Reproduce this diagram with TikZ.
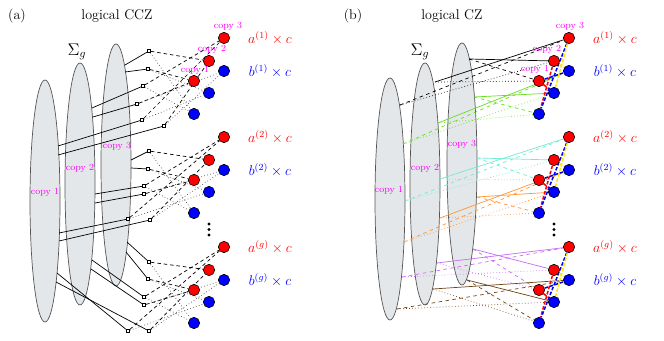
\documentclass[tikz,border=0pt]{standalone}
\usepackage{amsmath}
\usetikzlibrary{shapes.geometric}
\definecolor{shell}{HTML}{E4E7E9}
\definecolor{rim}{HTML}{555555}
\definecolor{qred}{HTML}{FF0000}
\definecolor{qblue}{HTML}{0000FF}
\definecolor{tagpink}{HTML}{FF00FF}
\definecolor{lime}{HTML}{66DD22}
\definecolor{aqua}{HTML}{70EBD2}
\definecolor{amber}{HTML}{FF9433}
\definecolor{lilac}{HTML}{C86AF5}
\definecolor{umber}{HTML}{6E4316}
\definecolor{gold}{HTML}{FFE600}
\pgfdeclarelayer{shells}
\pgfdeclarelayer{wires}
\pgfsetlayers{shells,wires,main}

\begin{document}
\begin{tikzpicture}[x=0.03cm, y=-0.03cm, font=\large,
  shellnode/.style={ellipse, draw=rim, fill=shell, line width=0.6pt, minimum width=0.9cm, minimum height=7.26cm, inner sep=0pt, outer sep=0pt},
  qa/.style={circle, draw=black, fill=qred, line width=0.5pt, minimum size=0.34cm, inner sep=0pt},
  qb/.style={qa, fill=qblue},
  junc/.style={draw=black, fill=white, line width=0.4pt, minimum size=0.1cm, inner sep=0pt},
  tag/.style={text=tagpink, font=\footnotesize},
  dotmark/.style={circle, fill=black, minimum size=0.1cm, inner sep=0pt},
  leg/.style={line width=0.6pt},
  opa/.style={line width=0.6pt, dash pattern=on 3pt off 2.5pt},
  opb/.style={line width=0.6pt, black!70, dotted},
  thread/.style={line width=0.6pt},
  czline/.style={line width=1.3pt, dash pattern=on 3pt off 1.5pt}]
  \useasboundingbox (0,0) rectangle (664,341);

  % (a) logical CCZ
  \node (pa) at (17,16) {(a)};
  \node (titlea) at (117,16) {logical CCZ};
  \node[font=\Large] (siga) at (77,52) {$\Sigma_g$};
  \begin{pgfonlayer}{shells}
    \node[shellnode] (ea1) at (45,201) {};
    \node[shellnode] (ea2) at (80,184) {};
    \node[shellnode] (ea3) at (116,165) {};
  \end{pgfonlayer}
  \node[tag] (cea1) at (45,192) {copy 1};
  \node[tag] (cea2) at (80,168) {copy 2};
  \node[tag] (cea3) at (117,146) {copy 3};

  % feet on the surfaces and junctions
  \coordinate (t11) at (125,65);  \coordinate (t12) at (125,72);
  \coordinate (t13) at (92,108);  \coordinate (t14) at (93,117);
  \coordinate (t15) at (58,146);  \coordinate (t16) at (58,155);
  \coordinate (t21) at (131,160); \coordinate (t22) at (131,168);
  \coordinate (t23) at (95,194);  \coordinate (t24) at (95,203);
  \coordinate (t25) at (59,233);  \coordinate (t26) at (59,241);
  \coordinate (t31) at (127,242); \coordinate (t32) at (126,252);
  \coordinate (t33) at (92,260);  \coordinate (t34) at (91,269);
  \coordinate (t35) at (57,273);  \coordinate (t36) at (56,282);
  \node[junc] (s11) at (149,51) {};  \node[junc] (s12) at (148,69) {};
  \node[junc] (s13) at (143,86) {};  \node[junc] (s14) at (137,104) {};
  \node[junc] (s15) at (142,120) {}; \node[junc] (s16) at (164,126) {};
  \node[junc] (s21) at (149,151) {}; \node[junc] (s22) at (148,169) {};
  \node[junc] (s23) at (144,186) {}; \node[junc] (s24) at (144,194) {};
  \node[junc] (s25) at (128,219) {}; \node[junc] (s26) at (150,220) {};
  \node[junc] (s31) at (149,262) {}; \node[junc] (s32) at (148,279) {};
  \node[junc] (s33) at (144,297) {}; \node[junc] (s34) at (144,305) {};
  \node[junc] (s35) at (128,331) {}; \node[junc] (s36) at (149,331) {};

  % qubits of both panels
  \foreach \g/\dy/\s in {1/0/1, 2/99/2, 3/209/g} {
    \node[qa] (aR\g3) at (224,38+\dy) {};
    \node[qa] (aR\g2) at (209,61+\dy) {};
    \node[qa] (aR\g1) at (194,81+\dy) {};
    \node[qb] (aB\g3) at (224,71+\dy) {};
    \node[qb] (aB\g2) at (209,93+\dy) {};
    \node[qb] (aB\g1) at (194,114+\dy) {};
    \node[qa] (bR\g3) at (569,38+\dy) {};
    \node[qa] (bR\g2) at (554,61+\dy) {};
    \node[qa] (bR\g1) at (539,81+\dy) {};
    \node[qb] (bB\g3) at (569,71+\dy) {};
    \node[qb] (bB\g2) at (554,93+\dy) {};
    \node[qb] (bB\g1) at (539,114+\dy) {};
    \node[qred] (laa\g) at (270,38+\dy) {$a^{(\s)}\times c$};
    \node[qblue] (lba\g) at (270,71+\dy) {$b^{(\s)}\times c$};
    \node[qred] (lab\g) at (615,38+\dy) {$a^{(\s)}\times c$};
    \node[qblue] (lbb\g) at (615,71+\dy) {$b^{(\s)}\times c$};
  }
  \node[tag] (qca3) at (228,26) {copy 3};
  \node[tag] (qca2) at (212,49) {copy 2};
  \node[tag] (qca1) at (195,70) {copy 1};
  \foreach \d/\y in {1/224, 2/229.5, 3/235} {
    \node[dotmark] (dota\d) at (209,\y) {};
    \node[dotmark] (dotb\d) at (554,\y) {};
  }

  \begin{pgfonlayer}{wires}
    \foreach \g in {1,2,3} {
      \foreach \k in {1,...,6}
        \draw[leg] (t\g\k) -- (s\g\k);
      \foreach \k/\r/\b in {1/2/1, 2/1/2, 3/3/1, 4/1/3, 5/3/2, 6/2/3} {
        \draw[opa] (s\g\k) -- (aR\g\r);
        \draw[opb] (s\g\k) -- (aB\g\b);
      }
    }
  \end{pgfonlayer}

  % (b) logical CZ
  \node (pb) at (353,16) {(b)};
  \node (titleb) at (452,16) {logical CZ};
  \node[font=\Large] (sigb) at (420,52) {$\Sigma_g$};
  \begin{pgfonlayer}{shells}
    \node[shellnode] (eb1) at (390,199) {};
    \node[shellnode] (eb2) at (425,184) {};
    \node[shellnode] (eb3) at (462,164) {};
  \end{pgfonlayer}
  \node[tag] (ceb1) at (389,190) {copy 1};
  \node[tag] (ceb2) at (425,168) {copy 2};
  \node[tag] (ceb3) at (462,144) {copy 3};
  \node[tag] (qcb3) at (570,26) {copy 3};
  \node[tag] (qcb2) at (547,49) {copy 2};
  \node[tag] (qcb1) at (535,69) {copy 1};

  \coordinate (ua13) at (469,59);  \coordinate (ua12) at (435,82);  \coordinate (ua11) at (400,105);
  \coordinate (ub13) at (474,97);  \coordinate (ub12) at (438,123); \coordinate (ub11) at (403,144);
  \coordinate (ua23) at (477,158); \coordinate (ua22) at (440,179); \coordinate (ua21) at (405,201);
  \coordinate (ub23) at (477,197); \coordinate (ub22) at (440,218); \coordinate (ub21) at (404,242);
  \coordinate (ua33) at (473,249); \coordinate (ua32) at (437,263); \coordinate (ua31) at (402,277);
  \coordinate (ub33) at (467,280); \coordinate (ub32) at (433,289); \coordinate (ub31) at (397,309);

  \begin{pgfonlayer}{wires}
    \foreach \g/\ca/\cb in {1/black/lime, 2/aqua/amber, 3/lilac/umber} {
      \foreach \k/\j/\sty in {3/2/solid, 3/1/dashed, 2/3/solid, 2/1/dotted, 1/3/dashed, 1/2/dotted} {
        \draw[thread, \ca, \sty] (ua\g\k) -- (bR\g\j);
        \draw[thread, \cb, \sty] (ub\g\k) -- (bB\g\j);
      }
      \draw[czline, qred] (bR\g2) -- (bB\g1);
      \draw[czline, qred] (bR\g1) -- (bB\g2);
      \draw[czline, qblue] (bR\g3) -- (bB\g1);
      \draw[czline, qblue] (bR\g1) -- (bB\g3);
      \draw[czline, gold] (bR\g3) -- (bB\g2);
      \draw[czline, gold] (bR\g2) -- (bB\g3);
    }
  \end{pgfonlayer}
\end{tikzpicture}
\end{document}
